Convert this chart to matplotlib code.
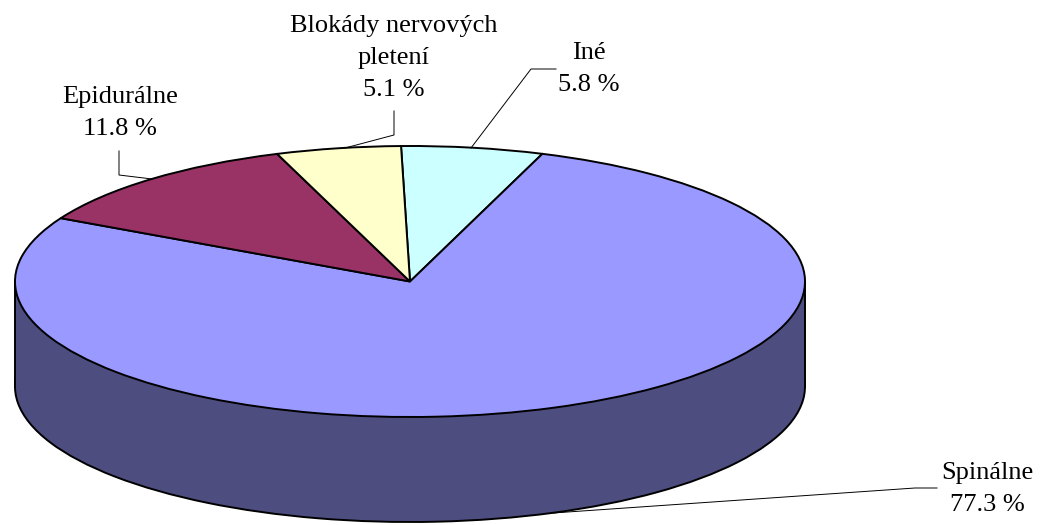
import matplotlib
matplotlib.use("Agg")
import matplotlib.pyplot as plt
from matplotlib.patches import Rectangle

# data
categories = ["Iné", "Spinálne", "Epidurálne", "Blokády nervových\npletení"]
shares = [5.8, 77.3, 11.8, 5.1]
top_colors = ["#CCFFFF", "#9999FF", "#993366", "#FFFFCC"]
side_colors = ["#668080", "#4D4D80", "#4D1A33", "#808066"]

plt.rcParams['font.family'] = ['Liberation Serif', 'DejaVu Serif']

W, H = 1042, 525
# pie geometry in pixels of the image
cx, cy = 410, 281.5
rx, ry = 395, 135.5
depth = 105 / ry


def px(x, y):
    # image pixel -> data coords (the pie is a unit circle in data coords)
    return (x - cx) / rx, (cy - y) / ry


fig = plt.figure(figsize=(W / 100, H / 100), dpi=100)
ax = fig.add_axes([0, 0, 1, 1])

edge = {'edgecolor': 'black', 'linewidth': 1.4}

# side of the cake first, then the top
ax.pie(shares, colors=side_colors, startangle=91.3, counterclock=False,
       center=(0, -depth), wedgeprops=edge)
ax.add_patch(Rectangle((-1, -depth), 2, depth, facecolor=side_colors[1], edgecolor='none'))
ax.plot([-1, -1], [0, -depth], color='black', lw=1.4)
ax.plot([1, 1], [0, -depth], color='black', lw=1.4)
ax.pie(shares, colors=top_colors, startangle=91.3, counterclock=False,
       center=(0, 0), wedgeprops=edge)

ax.set_aspect('auto')
ax.set_xlim(px(0, 0)[0], px(W, 0)[0])
ax.set_ylim(px(0, H)[1], px(0, 0)[1])
ax.axis('off')

# leader lines, in image pixels, same order as categories
leaders = [
    [(471, 148), (531, 69), (556, 69)],
    [(553, 513), (915, 488), (937, 488)],
    [(152, 179), (119, 175), (119, 151)],
    [(345, 148), (394, 135), (394, 111)],
]
for pts in leaders:
    xy = [px(x, y) for x, y in pts]
    ax.plot([p[0] for p in xy], [p[1] for p in xy], color='black', lw=0.7)

# label centres, in image pixels
label_pos = [(589, 69), (987, 489), (120, 113), (394, 58)]
for name, val, (x, y) in zip(categories, shares, label_pos):
    tx, ty = px(x, y)
    ax.text(tx, ty, f"{name}\n{val} %", ha='center', va='center',
            fontsize=19, linespacing=1.6, color='black')

fig.savefig("out.png", dpi=100)
